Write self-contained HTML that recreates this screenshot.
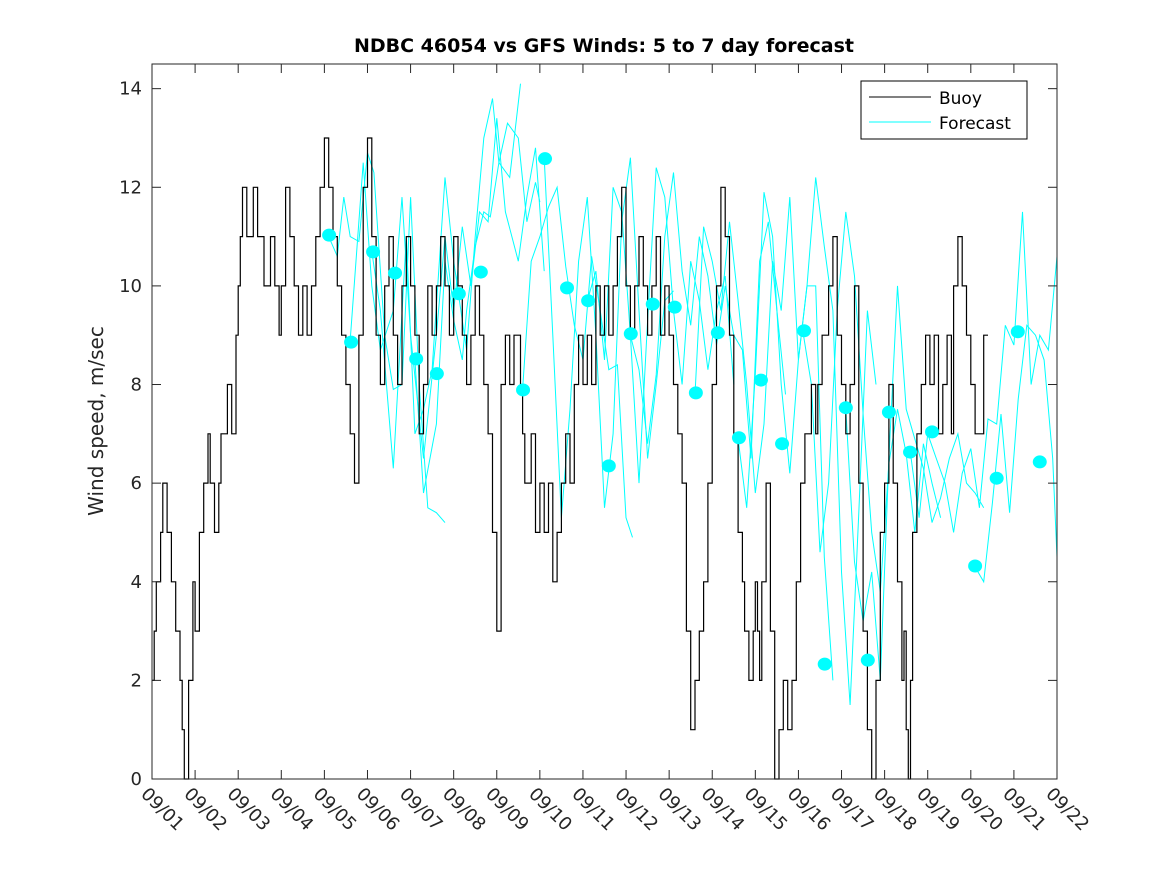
<!DOCTYPE html>
<html><head><meta charset="utf-8"><style>
body{margin:0;background:#fff;}
svg text{font-family:"DejaVu Sans","Liberation Sans",sans-serif;}
</style></head><body>
<svg id="chart" width="1167" height="875" xmlns="http://www.w3.org/2000/svg">
<rect width="1167" height="875" fill="#fff"/>
<text x="604" y="52" text-anchor="middle" font-size="19" font-weight="bold">NDBC 46054 vs GFS Winds: 5 to 7 day forecast</text>
<text transform="translate(103,421) rotate(-90)" text-anchor="middle" font-size="20" fill="#262626">Wind speed, m/sec</text>
<g id="plot"></g>
<g id="axes"></g>
<g>
<rect x="861" y="81" width="166" height="58" fill="#fff" stroke="#000" stroke-width="1"/>
<line x1="869" y1="97" x2="931" y2="97" stroke="#000" stroke-width="1"/>
<text x="939" y="104" font-size="17">Buoy</text>
<line x1="869" y1="122" x2="931" y2="122" stroke="#00ffff" stroke-width="1"/>
<text x="939" y="129" font-size="17">Forecast</text>
</g>
</svg>
<script>
const xTickLabels=["09/01","09/02","09/03","09/04","09/05","09/06","09/07","09/08","09/09","09/10","09/11","09/12","09/13","09/14","09/15","09/16","09/17","09/18","09/19","09/20","09/21","09/22"];
const yTicks=[0,2,4,6,8,10,12,14];
const buoyDays=[0,0.05,0.1,0.2,0.25,0.35,0.45,0.55,0.65,0.7,0.75,0.85,0.95,1.0,1.1,1.2,1.3,1.35,1.45,1.55,1.6,1.75,1.85,1.95,2.0,2.05,2.1,2.2,2.35,2.45,2.6,2.75,2.85,2.95,3.0,3.1,3.2,3.3,3.4,3.5,3.6,3.7,3.8,3.9,4.0,4.1,4.2,4.3,4.4,4.5,4.6,4.7,4.8,4.9,5.0,5.1,5.2,5.3,5.4,5.5,5.6,5.7,5.8,5.9,6.0,6.1,6.2,6.3,6.4,6.5,6.6,6.7,6.8,6.9,7.0,7.1,7.2,7.3,7.4,7.5,7.6,7.7,7.8,7.9,8.0,8.1,8.2,8.3,8.4,8.55,8.6,8.65,8.8,8.9,9.0,9.1,9.2,9.3,9.4,9.5,9.6,9.7,9.8,9.9,10.0,10.1,10.2,10.3,10.4,10.5,10.6,10.7,10.8,10.9,11.0,11.1,11.2,11.3,11.4,11.5,11.6,11.7,11.8,11.9,12.0,12.1,12.2,12.3,12.4,12.5,12.6,12.7,12.8,12.9,13.0,13.1,13.2,13.3,13.4,13.5,13.6,13.7,13.75,13.85,13.95,14.0,14.05,14.1,14.15,14.25,14.35,14.45,14.55,14.65,14.75,14.85,14.95,15.05,15.15,15.3,15.4,15.45,15.55,15.7,15.8,15.9,16.0,16.1,16.2,16.3,16.4,16.5,16.6,16.7,16.8,16.9,17.0,17.1,17.2,17.3,17.4,17.45,17.5,17.55,17.6,17.65,17.75,17.85,17.95,18.05,18.15,18.25,18.35,18.45,18.55,18.6,18.7,18.8,18.9,19.0,19.1,19.2,19.3,19.4,19.5,19.6,19.7,19.8,19.9,20.0,20.1,20.2,20.3];
const buoyVals=[2,3,4,5,6,5,4,3,2,1,0,2,4,3,5,6,7,6,5,6,7,8,7,9,10,11,12,11,12,11,10,11,10,9,10,12,11,10,9,10,9,10,11,12,13,12,11,10,9,8,7,6,9,12,13,11,9,8,10,11,9,8,10,11,10,9,7,8,10,9,10,11,10,9,11,10,9,8,9,10,9,8,7,5,3,8,9,8,9,8,7,6,7,5,6,5,6,4,5,6,7,6,8,9,8,9,8,10,9,10,9,10,11,12,10,9,10,11,10,9,10,11,9,10,9,8,7,6,3,1,2,3,4,6,8,10,12,11,9,7,5,4,3,2,3,4,3,2,4,6,3,0,1,2,1,2,4,6,7,8,7,8,9,10,11,9,8,7,8,10,6,3,1,0,2,5,6,8,6,4,2,3,1,0,2,5,7,8,9,8,9,7,8,9,7,10,11,10,9,8,7,7,9];
const dotDays=[4.11,4.62,5.13,5.64,6.13,6.61,7.12,7.63,8.61,9.12,9.63,10.12,10.6,11.11,11.62,12.13,12.62,13.13,13.62,14.13,14.62,15.13,15.61,16.1,16.61,17.1,17.59,18.1,19.1,19.6,20.09,20.6];
const dotVals=[11.03,8.86,10.69,10.26,8.52,8.22,9.84,10.28,7.89,12.58,9.96,9.7,6.35,9.03,9.63,9.57,7.83,9.05,6.92,8.09,6.8,9.09,2.33,7.53,2.41,7.44,6.63,7.04,4.32,6.1,9.07,6.43];
const fcDays=[
[4.1,4.3,4.45,4.6,4.8,5.0,5.15,5.4,5.6,5.8,6.0,6.2,6.4,6.6,6.8],
[4.6,4.9,5.1,5.3,5.6,5.8,6.0,6.3,6.6,6.8,7.0,7.2,7.4,7.6,7.8,8.0,8.2,8.5,8.7,8.9,9.1],
[5.1,5.3,5.6,5.9,6.1,6.3,6.5,6.8,7.0,7.3,7.5,7.7,7.9,8.05,8.3,8.55],
[6.1,6.3,6.6,6.8,7.0,7.2,7.3,7.5,7.7,7.85,8.05,8.25,8.5,8.7,8.9,9.0],
[8.6,8.8,9.0,9.2,9.4,9.6,9.8,10.0,10.2,10.4,10.6,10.8,11.0,11.15],
[9.1,9.3,9.5,9.7,9.9,10.1,10.3,10.5,10.7,10.9,11.1,11.3,11.5,11.7,11.9,12.1],
[10.1,10.3,10.5,10.7,10.9,11.1,11.3,11.5,11.7,11.9,12.1,12.3,12.5,12.7,12.9,13.1,13.3,13.5],
[11.1,11.3,11.5,11.7,11.9,12.1,12.3,12.5,12.7,12.9,13.1,13.3,13.5,13.7,13.9,14.1,14.3,14.5,14.7],
[12.6,12.8,13.0,13.2,13.4,13.6,13.8,14.0,14.2,14.4,14.6,14.8,15.0,15.2,15.4,15.6,15.8],
[13.6,13.8,14.0,14.2,14.4,14.6,14.8,15.0,15.2,15.4,15.6,15.8,16.0,16.2,16.4,16.6,16.8],
[15.1,15.3,15.5,15.7,15.9,16.1,16.3,16.5,16.7,16.9,17.1,17.3,17.5,17.7,17.9,18.1,18.3],
[16.1,16.3,16.5,16.7,16.9,17.1,17.3,17.5,17.7,17.9,18.1,18.3,18.5,18.7,18.9,19.1,19.3,19.5],
[17.6,17.8,18.0,18.2,18.4,18.6,18.8,19.0,19.2,19.4,19.6,19.8,20.0,20.2,20.4,20.6,20.8,21.0],
[19.1,19.3,19.5,19.7,19.9,20.1,20.3,20.5,20.7,20.9,21.0]];
const fcVals=[
[11.0,10.6,11.8,11.0,10.9,12.7,12.3,9.0,7.9,8.0,11.8,8.0,5.5,5.4,5.2],
[8.9,12.5,10.0,8.7,9.5,11.8,9.0,6.5,9.0,11.0,9.5,11.2,10.0,11.5,11.3,13.4,11.5,10.5,11.8,12.8,10.3],
[10.7,9.5,6.3,11.0,7.0,7.5,8.3,12.2,10.5,8.7,11.0,13.0,13.8,12.5,12.2,14.1],
[8.5,5.8,7.2,10.5,9.3,8.5,9.5,10.8,11.5,11.4,12.5,13.3,13.0,11.3,12.1,11.7],
[7.9,10.5,11.0,11.6,12.0,10.4,9.2,8.5,10.6,9.5,8.3,8.4,5.3,4.9],
[12.6,9.0,5.3,7.5,10.5,11.8,9.0,5.5,7.0,11.3,12.6,9.5,6.5,8.0,9.7,9.9],
[9.7,10.3,8.5,12.0,11.5,9.0,6.0,9.3,12.4,11.8,9.5,8.0,10.5,9.7,8.3,9.5,10.2,8.0],
[9.0,8.3,6.8,8.2,11.0,12.3,10.3,9.2,11.0,10.2,8.8,10.0,9.0,8.7,6.5,10.5,11.3,9.5,7.8],
[7.8,11.2,10.5,9.5,11.3,9.7,8.0,5.8,7.2,10.5,9.5,11.8,8.5,10.0,10.0,4.5,2.0],
[6.9,5.5,8.2,11.9,11.0,8.0,6.2,8.5,10.0,12.2,10.8,9.5,4.2,1.5,5.4,9.5,8.0],
[9.1,8.0,4.6,6.0,9.5,11.5,10.2,7.4,5.0,3.8,6.4,7.5,6.6,5.0,6.8,6.0,5.3],
[7.5,4.4,3.2,4.2,2.0,6.5,10.0,7.5,6.9,6.3,5.2,5.7,6.5,7.0,6.0,5.8,5.5],
[6.6,5.3,7.0,6.5,6.0,5.0,6.2,6.7,5.5,7.3,7.2,9.2,8.8,11.5,8.0,9.0,8.7,10.6],
[4.3,4.0,5.6,7.4,5.4,7.7,9.2,9.0,8.5,6.5,4.5]];

const L=152,R=1057,T=64,B=779,XMAX=21,YMAX=14.5;
const xs=d=>L+(R-L)*d/XMAX;
const ys=v=>B-(B-T)*v/YMAX;
const NS="http://www.w3.org/2000/svg";
const plot=document.getElementById('plot'),axes=document.getElementById('axes');
function mk(tag,attrs,parent){const e=document.createElementNS(NS,tag);for(const k in attrs)e.setAttribute(k,attrs[k]);parent.appendChild(e);return e;}
fcDays.forEach((ds,i)=>{
  const pts=ds.map((d,j)=>xs(d).toFixed(1)+','+ys(fcVals[i][j]).toFixed(1)).join(' ');
  const p=mk('polyline',{points:pts,fill:'none',stroke:'#00ffff','stroke-width':1},plot);
  
  
});
let bp=[];
buoyDays.forEach((d,i)=>{
  if(i>0)bp.push(xs(d).toFixed(1)+','+ys(buoyVals[i-1]).toFixed(1));
  bp.push(xs(d).toFixed(1)+','+ys(buoyVals[i]).toFixed(1));
});
const bl=mk('polyline',{points:bp.join(' '),fill:'none',stroke:'#000','stroke-width':1.2},plot);


dotDays.forEach((d,i)=>{
  const c=mk('ellipse',{cx:xs(d),cy:ys(dotVals[i]),rx:7,ry:6.5,fill:'#00ffff'},plot);
  
  
});
const box=mk('rect',{x:L,y:T,width:R-L,height:B-T,fill:'none',stroke:'#262626','stroke-width':1},axes);


yTicks.forEach(v=>{
  const y=ys(v);
  mk('line',{x1:L,y1:y,x2:L+9,y2:y,stroke:'#262626'},axes);
  mk('line',{x1:R,y1:y,x2:R-9,y2:y,stroke:'#262626'},axes);
  const t=mk('text',{x:L-10,y:y+6,'text-anchor':'end','font-size':18,fill:'#262626'},axes);
  t.textContent=v;
  
  
});
xTickLabels.forEach((lab,i)=>{
  const x=xs(i);
  mk('line',{x1:x,y1:B,x2:x,y2:B-9,stroke:'#262626'},axes);
  mk('line',{x1:x,y1:T,x2:x,y2:T+9,stroke:'#262626'},axes);
  const t=mk('text',{transform:`translate(${x-12},${B+16}) rotate(45)`,'font-size':18,fill:'#262626'},axes);
  t.textContent=lab;
  
  
});
</script>
</body></html>
